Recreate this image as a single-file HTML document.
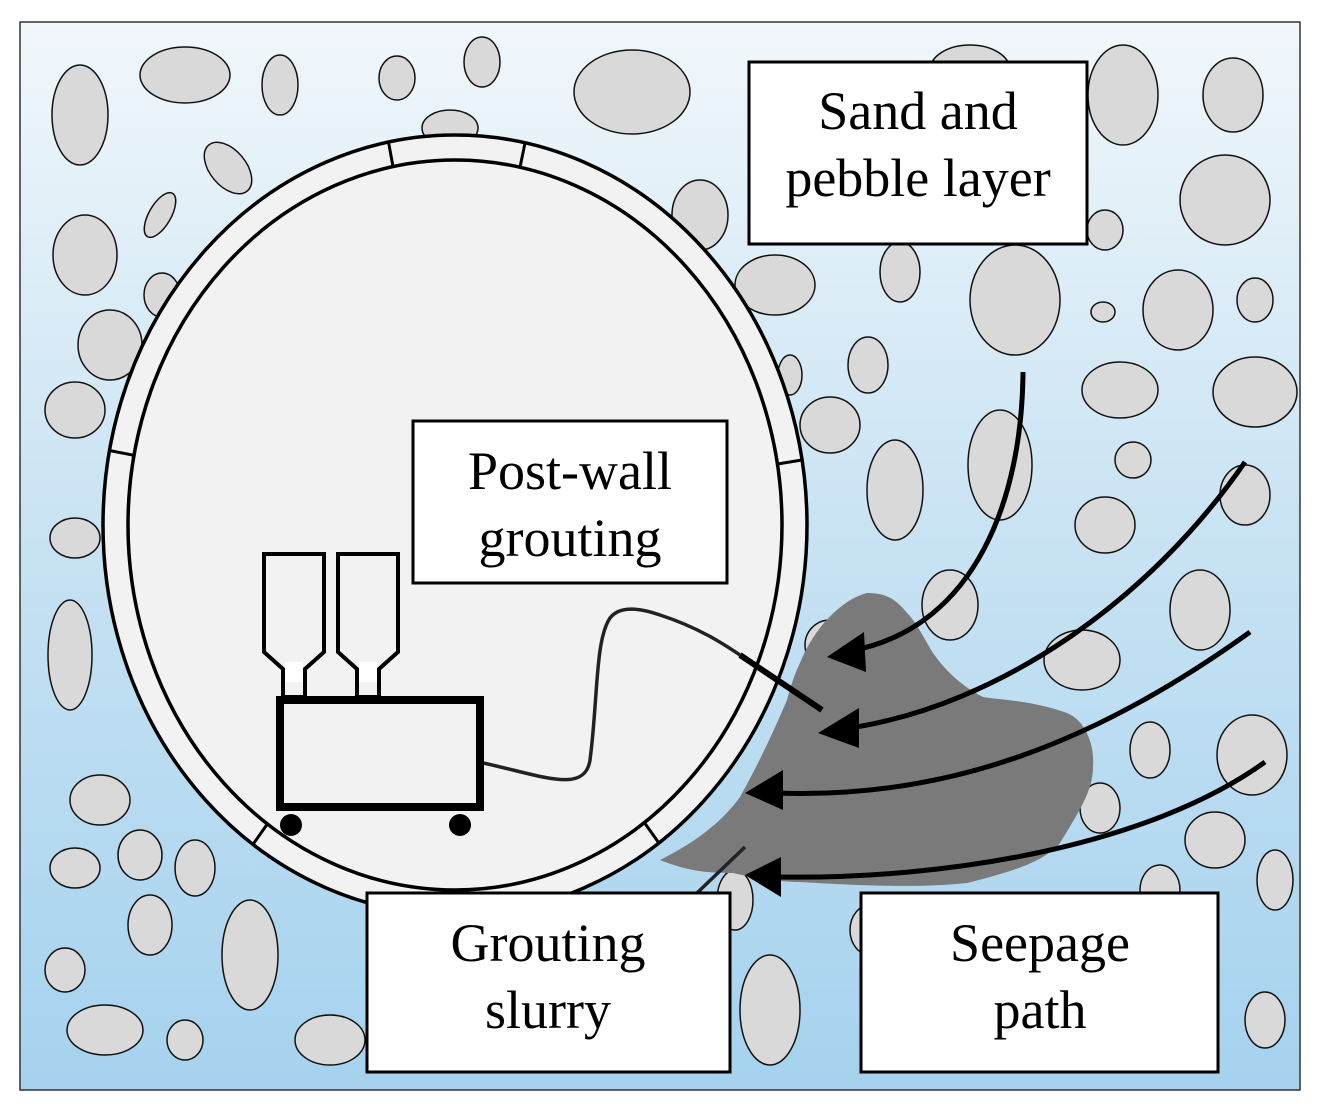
<!DOCTYPE html>
<html><head><meta charset="utf-8"><style>
html,body{margin:0;padding:0;background:#fff;}
svg{display:block;}
text{font-family:"Liberation Serif",serif;font-size:54px;fill:#000;text-anchor:middle;}
</style></head><body>
<svg width="1323" height="1111" viewBox="0 0 1323 1111" xmlns="http://www.w3.org/2000/svg">
<defs>
<linearGradient id="bg" x1="0" y1="0" x2="0" y2="1">
<stop offset="0" stop-color="#f1f7fb"/><stop offset="0.5" stop-color="#c7e2f3"/><stop offset="1" stop-color="#a5d2ee"/>
</linearGradient>
</defs>
<rect x="20" y="22" width="1280" height="1068" fill="url(#bg)" stroke="#333" stroke-width="1.5"/>
<g fill="#d9d9d9" stroke="#111" stroke-width="1.5">
<ellipse cx="80" cy="115" rx="28" ry="50"/><ellipse cx="185" cy="75" rx="45" ry="28"/><ellipse cx="280" cy="85" rx="18" ry="30"/>
<ellipse cx="397" cy="78" rx="18" ry="22"/><ellipse cx="482" cy="62" rx="18" ry="25"/><ellipse cx="632" cy="92" rx="58" ry="42"/>
<ellipse cx="970" cy="70" rx="40" ry="25"/><ellipse cx="1123" cy="95" rx="35" ry="50"/><ellipse cx="1233" cy="95" rx="30" ry="37"/>
<ellipse cx="228" cy="168" rx="18" ry="30" transform="rotate(-40 228 168)"/><ellipse cx="160" cy="215" rx="11" ry="25" transform="rotate(30 160 215)"/>
<ellipse cx="85" cy="255" rx="32" ry="40"/><ellipse cx="162" cy="295" rx="18" ry="22"/><ellipse cx="110" cy="345" rx="32" ry="35"/>
<ellipse cx="75" cy="410" rx="30" ry="28"/><ellipse cx="75" cy="538" rx="25" ry="20"/><ellipse cx="70" cy="655" rx="22" ry="55"/>
<ellipse cx="100" cy="800" rx="30" ry="25"/><ellipse cx="75" cy="868" rx="25" ry="20"/><ellipse cx="140" cy="855" rx="22" ry="25"/>
<ellipse cx="195" cy="868" rx="20" ry="28"/><ellipse cx="150" cy="925" rx="22" ry="30"/><ellipse cx="250" cy="955" rx="28" ry="55"/>
<ellipse cx="65" cy="970" rx="20" ry="22"/><ellipse cx="105" cy="1030" rx="38" ry="25"/><ellipse cx="185" cy="1040" rx="18" ry="20"/>
<ellipse cx="330" cy="1040" rx="35" ry="25"/><ellipse cx="1015" cy="300" rx="45" ry="55"/><ellipse cx="1105" cy="230" rx="18" ry="20"/>
<ellipse cx="1225" cy="200" rx="45" ry="45"/><ellipse cx="1103" cy="312" rx="12" ry="10"/><ellipse cx="1178" cy="310" rx="35" ry="40"/>
<ellipse cx="1255" cy="300" rx="18" ry="22"/><ellipse cx="1120" cy="390" rx="38" ry="28"/><ellipse cx="1255" cy="392" rx="42" ry="35"/>
<ellipse cx="868" cy="365" rx="20" ry="28"/><ellipse cx="830" cy="425" rx="30" ry="28"/><ellipse cx="895" cy="490" rx="28" ry="50"/>
<ellipse cx="1000" cy="465" rx="32" ry="55"/><ellipse cx="1133" cy="460" rx="18" ry="18"/><ellipse cx="1105" cy="525" rx="30" ry="28"/>
<ellipse cx="1245" cy="495" rx="25" ry="30"/><ellipse cx="1200" cy="610" rx="30" ry="40"/><ellipse cx="950" cy="605" rx="28" ry="35"/>
<ellipse cx="1082" cy="660" rx="38" ry="30"/><ellipse cx="1150" cy="750" rx="20" ry="28"/><ellipse cx="1252" cy="755" rx="35" ry="40"/>
<ellipse cx="1100" cy="808" rx="20" ry="25"/><ellipse cx="1215" cy="840" rx="30" ry="28"/><ellipse cx="1275" cy="880" rx="18" ry="30"/>
<ellipse cx="1160" cy="890" rx="20" ry="25"/><ellipse cx="770" cy="1010" rx="30" ry="55"/><ellipse cx="870" cy="930" rx="20" ry="25"/>
<ellipse cx="735" cy="900" rx="18" ry="30"/><ellipse cx="1265" cy="1020" rx="20" ry="28"/><ellipse cx="775" cy="285" rx="40" ry="30"/>
<ellipse cx="900" cy="272" rx="20" ry="30"/><ellipse cx="450" cy="128" rx="28" ry="18"/><ellipse cx="700" cy="215" rx="28" ry="35"/>
<ellipse cx="790" cy="375" rx="12" ry="20"/><ellipse cx="1120" cy="935" rx="18" ry="20"/><ellipse cx="830" cy="645" rx="25" ry="25"/>
</g>
<path d="M867,593 C845,598 815,625 800,663 C792,680 790,690 787,700 C770,740 755,770 740,797 C720,825 690,845 660,860 C690,872 710,873 733,873 C755,878 780,882 800,882 C880,887 930,887 967,883 C1020,870 1045,860 1060,843 C1080,810 1093,790 1093,767 C1095,745 1085,720 1067,713 C1030,700 1000,700 983,697 C960,685 945,670 933,653 C925,640 915,620 907,613 C895,598 885,593 867,593 Z" fill="#7a7a7a"/>
<ellipse cx="455" cy="525" rx="352" ry="390" fill="#f2f2f2" stroke="#000" stroke-width="3.5"/>
<ellipse cx="455" cy="525" rx="327" ry="365" fill="none" stroke="#000" stroke-width="3.5"/>
<g stroke="#000" stroke-width="3">
<line x1="388.5" y1="142" x2="393" y2="166.6"/><line x1="525" y1="143" x2="520" y2="167.3"/>
<line x1="109.3" y1="450.5" x2="133.9" y2="455.3"/><line x1="802" y1="460" x2="777.4" y2="464"/>
<line x1="253" y1="844.4" x2="267.3" y2="824"/><line x1="658.8" y1="842.9" x2="644.3" y2="822.5"/>
</g>
<path d="M483,763 C540,775 585,795 590,760 C598,700 595,640 610,618 C620,605 640,608 660,615 C700,628 725,645 740,655" fill="none" stroke="#222" stroke-width="3.5"/>
<line x1="740" y1="655" x2="822" y2="710" stroke="#000" stroke-width="6"/>
<line x1="745" y1="847" x2="697" y2="893" stroke="#222" stroke-width="3.5"/>
<g fill="none" stroke="#000" stroke-width="5">
<path d="M1023,372 C1022,500 975,625 855,650"/>
<path d="M1245,462 C1150,600 1000,705 850,728"/>
<path d="M1250,632 C1100,740 950,800 775,793"/>
<path d="M1265,762 C1150,845 950,880 775,877"/>
</g>
<g fill="#000">
<path d="M827,657 L864,632 L866,672 Z"/>
<path d="M818,733 L859,708 L859,748 Z"/>
<path d="M745,793 L783,770 L783,810 Z"/>
<path d="M745,875 L781,857 L781,897 Z"/>
</g>
<g stroke="#000" stroke-width="4" fill="#f2f2f2">
<path d="M264,554 H324 V652 L305,669 V697 H283 V669 L264,652 Z"/>
<path d="M338,554 H398 V652 L379,669 V697 H357 V669 L338,652 Z"/>
</g>
<rect x="285" y="662" width="18" height="20" fill="#fff"/><rect x="359" y="662" width="18" height="20" fill="#fff"/>
<rect x="280" y="700" width="200" height="107" fill="#f2f2f2" stroke="#000" stroke-width="8"/>
<circle cx="291" cy="825" r="11" fill="#000"/><circle cx="460" cy="825" r="11" fill="#000"/>
<g fill="#fff" stroke="#000" stroke-width="3">
<rect x="749" y="62" width="338" height="182"/>
<rect x="413" y="421" width="314" height="162"/>
<rect x="367" y="893" width="363" height="179"/>
<rect x="861" y="893" width="357" height="179"/>
</g>
<text x="918" y="129">Sand and</text><text x="918" y="196">pebble layer</text>
<text x="570" y="489">Post-wall</text><text x="570" y="556">grouting</text>
<text x="548" y="961">Grouting</text><text x="548" y="1028">slurry</text>
<text x="1040" y="961">Seepage</text><text x="1040" y="1028">path</text>
</svg>
</body></html>
